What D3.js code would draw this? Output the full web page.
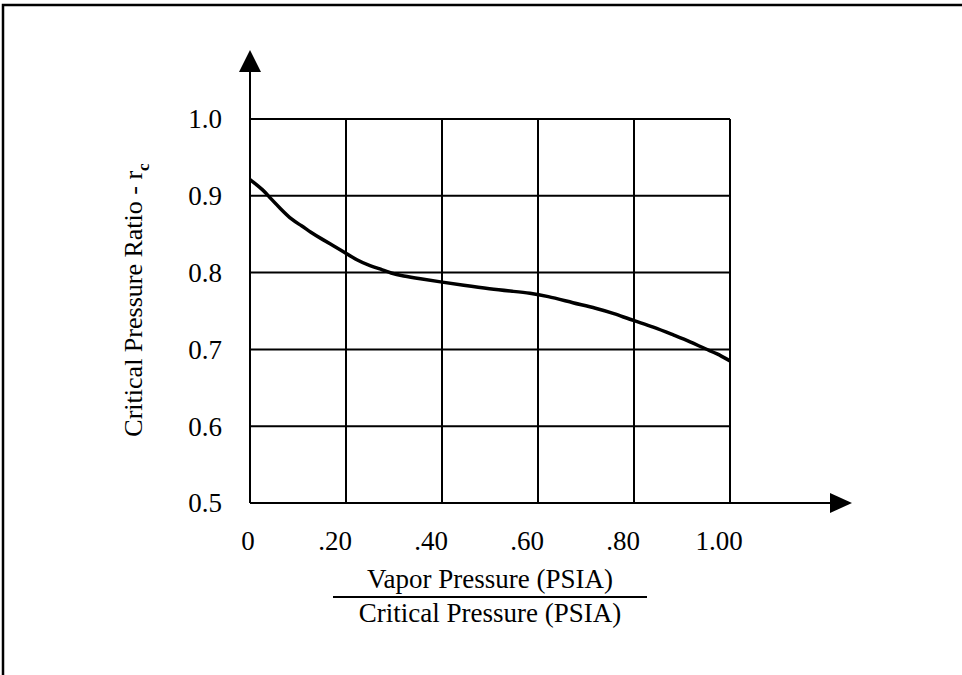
<!DOCTYPE html>
<html>
<head>
<meta charset="utf-8">
<script src="https://cdn.jsdelivr.net/npm/d3@7"></script>
<style>
  body { margin: 0; background: #fff; }
  svg text { font-family: "Liberation Serif", "Times New Roman", serif; fill: #000; }
</style>
</head>
<body>
<div id="chart"></div>
<script>
// ratio of vapor pressure to critical pressure (x) vs critical pressure ratio r_c (y)
var pressureRatio = [0.0, 0.028, 0.042, 0.0625, 0.087, 0.108, 0.125, 0.153, 0.174, 0.198,
  0.222, 0.25, 0.278, 0.292, 0.319, 0.354, 0.396, 0.444, 0.5, 0.549, 0.583, 0.618,
  0.674, 0.722, 0.757, 0.799, 0.84, 0.882, 0.917, 0.951, 0.972, 1.0];
var criticalRatio = [0.921, 0.9075, 0.897, 0.884, 0.8685, 0.861, 0.853, 0.8424, 0.835, 0.826,
  0.8164, 0.8086, 0.8034, 0.7995, 0.7956, 0.792, 0.788, 0.7835, 0.7785, 0.7755, 0.7735, 0.7695,
  0.7605, 0.7535, 0.747, 0.7374, 0.7296, 0.7188, 0.710, 0.700, 0.695, 0.685];
var xTicks = [0, 0.2, 0.4, 0.6, 0.8, 1.0];
var xTickLabels = ["0", ".20", ".40", ".60", ".80", "1.00"];
var yTicks = [0.5, 0.6, 0.7, 0.8, 0.9, 1.0];
var yTickLabels = ["0.5", "0.6", "0.7", "0.8", "0.9", "1.0"];

var width = 962, height = 675;
var plot = {left: 250, right: 730, top: 119, bottom: 503};

var x = d3.scaleLinear().domain([0, 1]).range([plot.left, plot.right]);
var y = d3.scaleLinear().domain([0.5, 1.0]).range([plot.bottom, plot.top]);

var svg = d3.select("#chart").append("svg")
    .attr("width", width)
    .attr("height", height);

// page frame (runs off the right and bottom edges)
svg.append("rect")
    .attr("x", 3).attr("y", 5)
    .attr("width", 1100).attr("height", 1000)
    .attr("fill", "none")
    .attr("stroke", "#000")
    .attr("stroke-width", 2.5);

var grid = svg.append("g").attr("stroke", "#000").attr("stroke-width", 2);

// horizontal grid lines
grid.selectAll(".hline")
    .data(yTicks.slice(1))
    .enter().append("line")
    .attr("x1", x(0)).attr("x2", x(1))
    .attr("y1", function(d) { return y(d); })
    .attr("y2", function(d) { return y(d); });

// vertical grid lines
grid.selectAll(".vline")
    .data(xTicks.slice(1))
    .enter().append("line")
    .attr("x1", function(d) { return x(d); })
    .attr("x2", function(d) { return x(d); })
    .attr("y1", y(0.5)).attr("y2", y(1.0));

// axes with arrows
grid.append("line")
    .attr("x1", x(0)).attr("x2", x(0))
    .attr("y1", y(0.5)).attr("y2", 70);
grid.append("line")
    .attr("x1", x(0)).attr("x2", 832)
    .attr("y1", y(0.5)).attr("y2", y(0.5));

svg.append("path")
    .attr("d", "M" + x(0) + ",50 L" + (x(0) - 11) + ",72 L" + (x(0) + 11) + ",72 Z")
    .attr("fill", "#000");
svg.append("path")
    .attr("d", "M852," + y(0.5) + " L830," + (y(0.5) - 10) + " L830," + (y(0.5) + 10) + " Z")
    .attr("fill", "#000");

// tick labels
svg.selectAll(".xlab")
    .data(xTicks)
    .enter().append("text")
    .attr("x", function(d) { return x(d); })
    .attr("dx", function(d, i) { return i === 0 ? -2 : -11; })
    .attr("y", 550)
    .attr("text-anchor", "middle")
    .style("font-size", "27px")
    .text(function(d, i) { return xTickLabels[i]; });

svg.selectAll(".ylab")
    .data(yTicks)
    .enter().append("text")
    .attr("x", x(0) - 28)
    .attr("y", function(d) { return y(d); })
    .attr("dy", "0.35em")
    .attr("text-anchor", "end")
    .style("font-size", "27px")
    .text(function(d, i) { return yTickLabels[i]; });

// y axis title
var yTitle = svg.append("text")
    .attr("transform", "translate(142,300) rotate(-90)")
    .attr("text-anchor", "middle")
    .style("font-size", "26px");
yTitle.append("tspan").text("Critical Pressure Ratio - r");
yTitle.append("tspan").attr("dy", 7).style("font-size", "17px").style("font-weight", "bold").text("c");

// x axis title as a fraction
svg.append("text")
    .attr("x", 490).attr("y", 588)
    .attr("text-anchor", "middle")
    .style("font-size", "27px")
    .text("Vapor Pressure (PSIA)");
svg.append("line")
    .attr("x1", 333).attr("x2", 647)
    .attr("y1", 597).attr("y2", 597)
    .attr("stroke", "#000").attr("stroke-width", 2);
svg.append("text")
    .attr("x", 490).attr("y", 622)
    .attr("text-anchor", "middle")
    .style("font-size", "27px")
    .text("Critical Pressure (PSIA)");

// the curve
var line = d3.line()
    .x(function(d, i) { return x(pressureRatio[i]); })
    .y(function(d) { return y(d); })
    .curve(d3.curveBasis);

svg.append("path")
    .datum(criticalRatio)
    .attr("d", line)
    .attr("fill", "none")
    .attr("stroke", "#000")
    .attr("stroke-width", 3.5);
</script>
</body>
</html>
